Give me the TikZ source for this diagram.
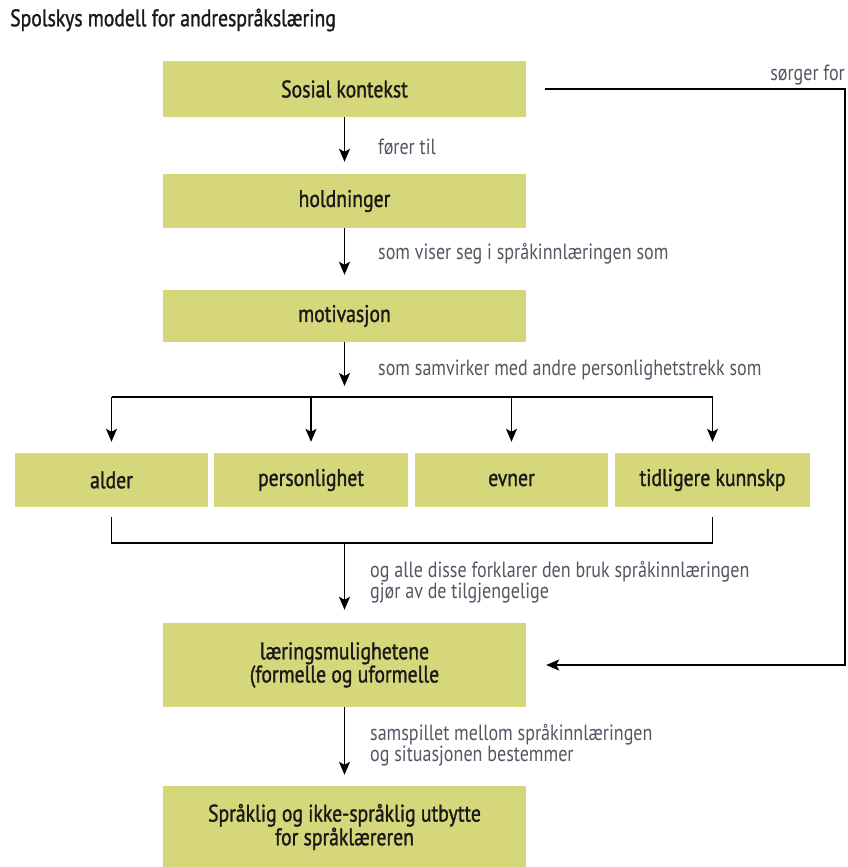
\documentclass[tikz,border=0pt]{standalone}
\usepackage{fontspec}
\setmainfont{PT Sans}[FakeStretch=0.82]
\newfontfamily\boksfont{PT Sans}[FakeStretch=0.82, FakeBold=1.2]
\usepackage{tikz}
\usetikzlibrary{arrows.meta,calc,positioning}
\usepackage{xcolor}
\definecolor{Oliven}{RGB}{214,214,122}
\definecolor{Grafitt}{RGB}{85,85,100}

\begin{document}
\begin{tikzpicture}[x=1pt,y=-1pt,
  boks/.style={fill=Oliven, minimum width=363pt, minimum height=56pt, inner sep=0pt, align=center, text=black!90, font=\boksfont\fontsize{24}{22}\selectfont},
  smal/.style={boks, minimum width=193pt, minimum height=54pt},
  merk/.style={anchor=west, inner sep=0pt, align=left, text=Grafitt, font=\fontsize{22}{21}\selectfont},
  pil/.style={-{Stealth[length=13pt,width=11pt,inset=3pt]}, line width=1.5pt, line join=miter},
  linje/.style={line width=1.5pt}]
\useasboundingbox (0,0) rectangle (847,867);
\node[anchor=west, inner sep=0pt, text=black!90, font=\boksfont\fontsize{24}{22}\selectfont] (tittel) at (10,20) {Spolskys modell for andrespråkslæring};
%
% kjeden i midten
\node[boks] (kontekst) at (344.5,89) {Sosial kontekst};
\node[boks, minimum height=54pt] (holdninger) at (344.5,201) {holdninger};
\node[boks, minimum height=52pt] (motivasjon) at (344.5,316) {motivasjon};
\node[smal] (alder) at (111.5,480) {alder};
\node[smal, minimum width=194pt] (personlighet) at (311,480) {personlighet};
\node[smal] (evner) at (511.5,480) {evner};
\node[smal, minimum width=195pt] (kunnskap) at (712.5,480) {tidligere kunnskp};
\node[boks, minimum height=84pt] (laering) at (344.5,665) {læringsmulighetene\\(formelle og uformelle};
\node[boks, minimum height=82pt] (utbytte) at (344.5,827) {Språklig og ikke-språklig utbytte\\for språklæreren};
%
\coordinate (gren) at (344.5,397);
\coordinate (samle) at (344.5,543);
\coordinate (hjorne) at (845,89);
%
\draw[pil, shorten >=12pt] (kontekst) -- (holdninger);
\draw[pil, shorten >=15pt] (holdninger) -- (motivasjon);
\draw[pil, shorten >=11pt] (motivasjon) -- (gren);
\draw[linje] (alder.north |- gren) -- (kunnskap.north |- gren);
\foreach \n in {alder,personlighet,evner,kunnskap}
  \draw[pil, shorten >=11pt] (\n.north |- gren) -- (\n.north);
\draw[linje, shorten <=10pt, shorten >=10pt] (alder.south) |- (samle) -| (kunnskap.south);
\draw[pil, shorten >=13pt] (samle) -- (laering);
\draw[pil, shorten >=11pt] (laering) -- (utbytte);
\draw[pil, shorten <=19pt, shorten >=20pt] (kontekst.east) -- (hjorne) |- (laering.east);
%
% tekst ved pilene
\node[merk] (ledd1) at (378,147) {fører til};
\node[merk] (ledd2) at (378,254) {som viser seg i språkinnlæringen som};
\node[merk] (ledd3) at (378,370) {som samvirker med andre personlighetstrekk som};
\node[merk] (ledd4) at (370,582) {og alle disse forklarer den bruk språkinnlæringen\\gjør av de tilgjengelige};
\node[merk] (ledd5) at (370,745) {samspillet mellom språkinnlæringen\\og situasjonen bestemmer};
\node[merk, anchor=east] (ledd6) at (845,75) {sørger for};
%
\end{tikzpicture}
\end{document}
